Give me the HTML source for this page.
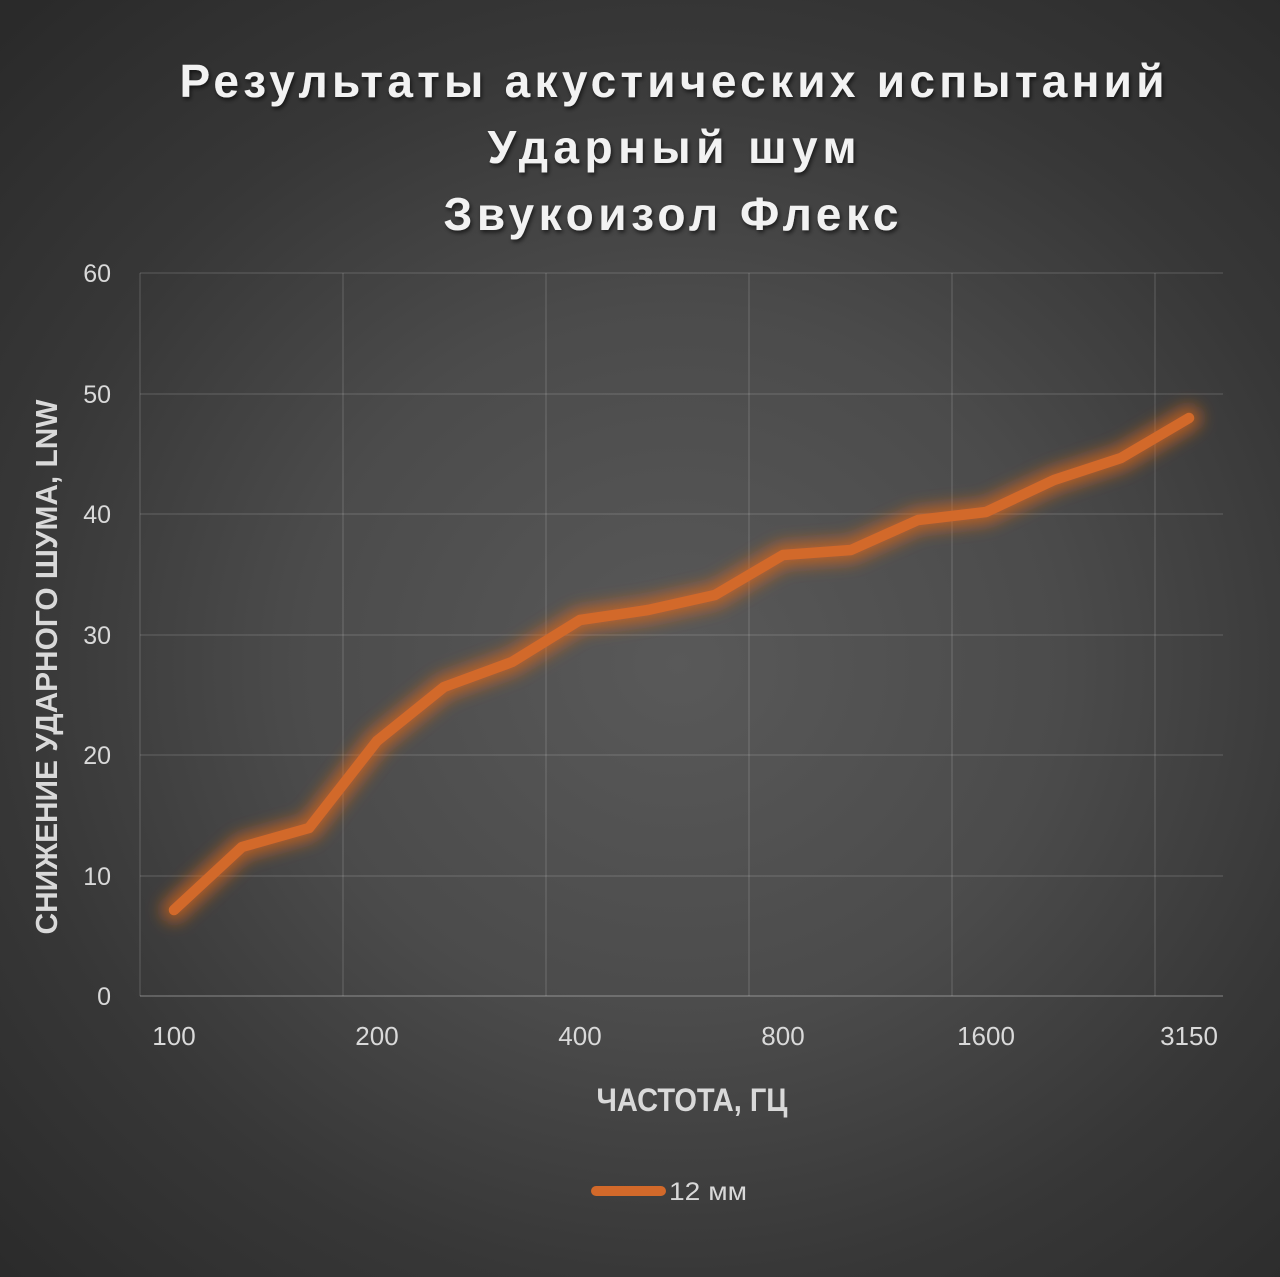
<!DOCTYPE html>
<html><head><meta charset="utf-8"><style>
html,body{margin:0;padding:0;}
body{width:1280px;height:1277px;overflow:hidden;background:radial-gradient(ellipse 75% 70% at 53% 52%, #595959 0%, #4b4b4b 40%, #373737 70%, #2a2a2a 100%);}
svg{display:block;}
</style></head><body>
<svg width="1280" height="1277" viewBox="0 0 1280 1277" xmlns="http://www.w3.org/2000/svg">
<defs>
<filter id="glow" x="-10%" y="-10%" width="120%" height="120%">
<feGaussianBlur stdDeviation="8"/>
</filter>
<filter id="tshadow" x="-5%" y="-20%" width="110%" height="150%">
<feDropShadow dx="1.5" dy="2.5" stdDeviation="2" flood-color="#000" flood-opacity="0.6"/>
</filter>
</defs>
<g font-family="'Liberation Sans', sans-serif" font-weight="bold" fill="#f2f2f2" text-anchor="middle" filter="url(#tshadow)">
<text x="672" y="97" font-size="46" textLength="985" lengthAdjust="spacing">Результаты акустических испытаний</text>
<text x="672" y="163" font-size="46" textLength="369" lengthAdjust="spacing">Ударный шум</text>
<text x="671" y="230" font-size="46" textLength="455" lengthAdjust="spacing">Звукоизол Флекс</text>
</g>
<g stroke="#ffffff" stroke-opacity="0.13" stroke-width="1.5" fill="none">
<line x1="140" y1="273" x2="1223" y2="273"/>
<line x1="140" y1="394" x2="1223" y2="394"/>
<line x1="140" y1="514" x2="1223" y2="514"/>
<line x1="140" y1="635" x2="1223" y2="635"/>
<line x1="140" y1="755" x2="1223" y2="755"/>
<line x1="140" y1="876" x2="1223" y2="876"/>
<line x1="140" y1="273" x2="140" y2="996"/>
<line x1="343" y1="273" x2="343" y2="996"/>
<line x1="546" y1="273" x2="546" y2="996"/>
<line x1="749" y1="273" x2="749" y2="996"/>
<line x1="952" y1="273" x2="952" y2="996"/>
<line x1="1155" y1="273" x2="1155" y2="996"/>
</g>
<line x1="140" y1="996" x2="1223" y2="996" stroke="#ffffff" stroke-opacity="0.2" stroke-width="2"/>
<g font-family="'Liberation Sans', sans-serif" font-size="25" fill="#d9d9d9" text-anchor="end">
<text x="111" y="282">60</text>
<text x="111" y="403">50</text>
<text x="111" y="523">40</text>
<text x="111" y="644">30</text>
<text x="111" y="764">20</text>
<text x="111" y="885">10</text>
<text x="111" y="1005">0</text>
</g>
<g font-family="'Liberation Sans', sans-serif" font-size="26" fill="#d9d9d9" text-anchor="middle">
<text x="174" y="1045">100</text>
<text x="377" y="1045">200</text>
<text x="580" y="1045">400</text>
<text x="783" y="1045">800</text>
<text x="986" y="1045">1600</text>
<text x="1189" y="1045">3150</text>
</g>
<text x="692" y="1111" font-family="'Liberation Sans', sans-serif" font-weight="bold" font-size="32" fill="#d9d9d9" text-anchor="middle" textLength="191" lengthAdjust="spacingAndGlyphs">ЧАСТОТА, ГЦ</text>
<text transform="translate(57,667) rotate(-90)" x="0" y="0" font-family="'Liberation Sans', sans-serif" font-weight="bold" font-size="31" fill="#d9d9d9" text-anchor="middle" textLength="535" lengthAdjust="spacingAndGlyphs">СНИЖЕНИЕ УДАРНОГО ШУМА, LNW</text>
<polyline points="174,910 242,847 309,828 377,741 444,687 512,662 580,620 648,610 715,595 783,555 851,550 918,520 986,512 1054,480 1121,458 1189,418" fill="none" stroke="#e06a1c" stroke-opacity="0.7" stroke-width="24" stroke-linejoin="round" stroke-linecap="round" filter="url(#glow)"/>
<polyline points="174,910 242,847 309,828 377,741 444,687 512,662 580,620 648,610 715,595 783,555 851,550 918,520 986,512 1054,480 1121,458 1189,418" fill="none" stroke="#d2692a" stroke-width="10.5" stroke-linejoin="round" stroke-linecap="round"/>
<line x1="596" y1="1191" x2="661" y2="1191" stroke="#d2692a" stroke-width="10" stroke-linecap="round"/>
<text x="669" y="1200" font-family="'Liberation Sans', sans-serif" font-size="25" fill="#d9d9d9" textLength="78" lengthAdjust="spacingAndGlyphs">12 мм</text>
</svg>
</body></html>
